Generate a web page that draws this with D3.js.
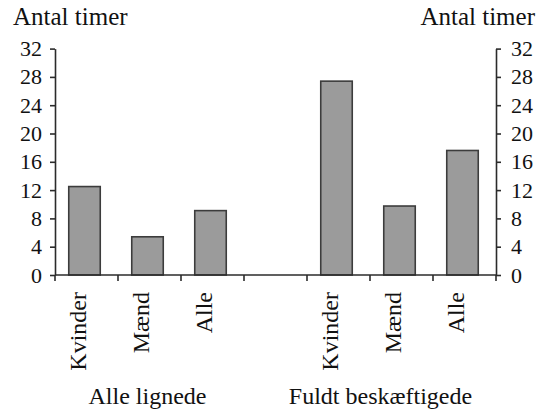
<!DOCTYPE html>
<html>
<head>
<meta charset="utf-8">
<script src="https://cdn.jsdelivr.net/npm/d3@7"></script>
<style>
  body { margin: 0; background: #fff; }
</style>
</head>
<body>
<div id="container"></div>
<script>
const slots = ["L-Kvinder", "L-Mænd", "L-Alle", "gap", "F-Kvinder", "F-Mænd", "F-Alle"];
const categoryLabels = ["Kvinder", "Mænd", "Alle", "", "Kvinder", "Mænd", "Alle"];
const hours = [12.5, 5.4, 9.1, null, 27.4, 9.75, 17.6];
const groups = ["Alle lignede", "Fuldt beskæftigede"];
const yTicks = [0, 4, 8, 12, 16, 20, 24, 28, 32];
const axisTitle = "Antal timer";

const width = 550;
const height = 413;
const plotLeft = 55, plotRight = 496, plotTop = 48.6, plotBottom = 275;
const font = "'Liberation Serif', 'Times New Roman', serif";
const ink = "#2b2b2b";

const svg = d3.create("svg")
    .attr("width", width)
    .attr("height", height)
    .style("font-family", font);

const x = d3.scaleBand()
    .domain(slots)
    .range([plotLeft, plotRight])
    .paddingInner(0.5)
    .paddingOuter(0.25);

const y = d3.scaleLinear()
    .domain([0, 32])
    .range([plotBottom, plotTop]);

// bars
svg.append("g")
    .attr("transform", "translate(-2,0)")
    .selectAll("rect.bar")
    .data(slots.map((s, i) => ({slot: s, value: hours[i]})).filter(d => d.value != null))
    .enter()
    .append("rect")
    .attr("class", "bar")
    .attr("x", d => x(d.slot))
    .attr("width", x.bandwidth())
    .attr("y", d => y(d.value))
    .attr("height", d => y(0) - y(d.value))
    .attr("fill", "#9b9b9b")
    .attr("stroke", "#3c3c3c")
    .attr("stroke-width", 1.6);

// y axes
const styleAxis = g => {
    g.select(".domain").attr("stroke", ink).attr("stroke-width", 1.6);
    g.selectAll(".tick line").attr("stroke", ink).attr("stroke-width", 1.6);
    g.selectAll(".tick text")
        .attr("fill", "#111")
        .attr("font-size", "22px")
        .attr("font-family", font);
};

svg.append("g")
    .attr("transform", `translate(${plotLeft},0)`)
    .call(d3.axisLeft(y).tickValues(yTicks).tickSize(5).tickSizeOuter(0).tickPadding(8))
    .call(styleAxis);

svg.append("g")
    .attr("transform", `translate(${plotRight},0)`)
    .call(d3.axisRight(y).tickValues(yTicks).tickSize(5).tickSizeOuter(0).tickPadding(10))
    .call(styleAxis);

// x axis line and slot boundary ticks
svg.append("line")
    .attr("x1", plotLeft)
    .attr("x2", plotRight)
    .attr("y1", y(0))
    .attr("y2", y(0))
    .attr("stroke", ink)
    .attr("stroke-width", 1.6);

const step = x.step();
const boundaries = d3.range(slots.length + 1).map(i => x(slots[0]) - x.paddingOuter() * step + i * step);
svg.selectAll("line.xtick")
    .data(boundaries)
    .enter()
    .append("line")
    .attr("class", "xtick")
    .attr("x1", d => d)
    .attr("x2", d => d)
    .attr("y1", y(0))
    .attr("y2", y(0) + 6)
    .attr("stroke", ink)
    .attr("stroke-width", 1.6);

// category labels, rotated
svg.selectAll("text.cat")
    .data(slots.map((s, i) => ({slot: s, label: categoryLabels[i]})).filter(d => d.label))
    .enter()
    .append("text")
    .attr("class", "cat")
    .attr("transform", d => `translate(${x(d.slot) + x.bandwidth() / 2 - 1},${plotBottom + 17}) rotate(-90)`)
    .attr("text-anchor", "end")
    .attr("fill", "#111")
    .attr("font-size", "24px")
    .text(d => d.label);

// group labels
const groupX = [x("L-Mænd") + x.bandwidth() / 2 - 2, x("F-Mænd") + x.bandwidth() / 2 - 21];
svg.selectAll("text.group")
    .data(groups)
    .enter()
    .append("text")
    .attr("class", "group")
    .attr("x", (d, i) => groupX[i])
    .attr("y", 404)
    .attr("text-anchor", "middle")
    .attr("fill", "#111")
    .attr("font-size", "24px")
    .text(d => d);

// axis titles
svg.append("text")
    .attr("x", 13)
    .attr("y", 25)
    .attr("fill", "#111")
    .attr("font-size", "25px")
    .text(axisTitle);

svg.append("text")
    .attr("x", 535)
    .attr("y", 25)
    .attr("text-anchor", "end")
    .attr("fill", "#111")
    .attr("font-size", "25px")
    .text(axisTitle);

d3.select("#container").append(() => svg.node());
</script>
</body>
</html>
